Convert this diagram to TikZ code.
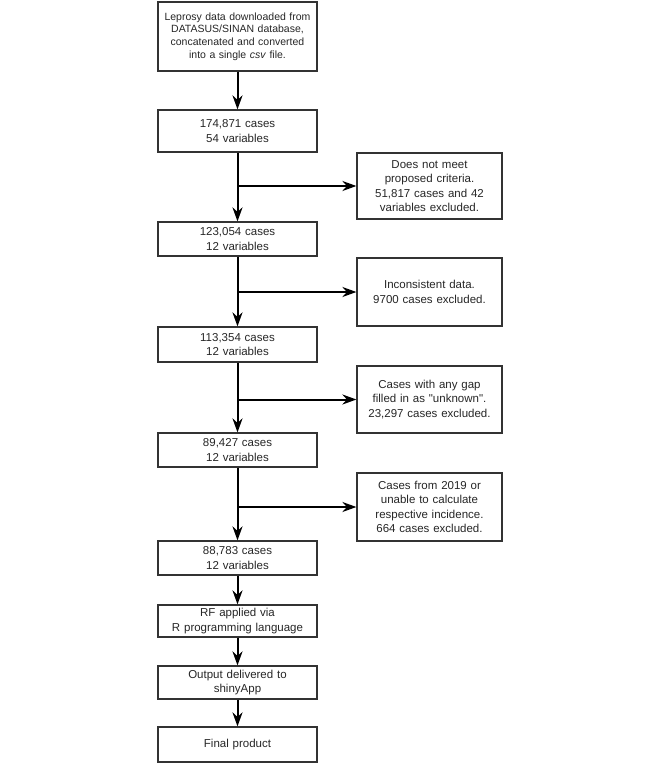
\documentclass[tikz,border=0pt]{standalone}
\usepackage{fontspec}
\setmainfont{Liberation Sans}
\usetikzlibrary{arrows.meta}
\definecolor{boxgray}{HTML}{333333}

\begin{document}
\begin{tikzpicture}[x=1pt, y=-1pt,
        stage/.style={draw=boxgray, line width=1.2pt, align=center, text width=152pt, minimum width=159pt, minimum height=34pt, inner sep=0pt, text=black!85, font=\fontsize{11.5}{14.5}\selectfont},
        drop/.style={stage, text width=140pt, minimum width=145pt, minimum height=67pt},
        flow/.style={-{Stealth[length=14pt, width=10pt, inset=4.5pt]}, line width=2pt}]
        \useasboundingbox (0,0) rectangle (666,763);

        \node[stage, minimum height=69pt, font=\fontsize{10.5}{12.6}\selectfont] (raw) at (237.5,36.5) {Leprosy data downloaded from\\DATASUS/SINAN database,\\concatenated and converted\\into a single \textit{csv} file.};
        \node[stage, minimum height=42pt] (all) at (237.5,131) {174,871 cases\\54 variables};
        \node[stage] (crit) at (237.5,239) {123,054 cases\\12 variables};
        \node[stage, minimum height=35pt] (clean) at (237.5,344.5) {113,354 cases\\12 variables};
        \node[stage] (known) at (237.5,450) {89,427 cases\\12 variables};
        \node[stage] (final) at (237.5,558) {88,783 cases\\12 variables};
        \node[stage, minimum height=32pt] (rf) at (237.5,621) {RF applied via\\R programming language};
        \node[stage, minimum height=33pt] (shiny) at (237.5,682.5) {Output delivered to\\shinyApp};
        \node[stage, minimum height=35pt] (product) at (237.5,744.5) {Final product};

        \node[drop, minimum height=66pt] (critout) at (429.5,186) {Does not meet\\proposed criteria.\\51,817 cases and 42\\variables excluded.};
        \node[drop, minimum height=68pt] (inconsout) at (429.5,292) {Inconsistent data.\\9700 cases excluded.};
        \node[drop] (gapout) at (429.5,399.5) {Cases with any gap\\filled in as \textquotedbl unknown\textquotedbl.\\23,297 cases excluded.};
        \node[drop, minimum height=68pt] (yearout) at (429.5,507) {Cases from 2019 or\\unable to calculate\\respective incidence.\\664 cases excluded.};

        \draw[flow] (raw) -- (all);
        \draw[flow] (all) -- (crit);
        \draw[flow] (crit) -- (clean);
        \draw[flow] (clean) -- (known);
        \draw[flow] (known) -- (final);
        \draw[flow] (final) -- (rf);
        \draw[flow] (rf) -- (shiny);
        \draw[flow] (shiny) -- (product);

        \draw[flow] (all |- critout) -- (critout);
        \draw[flow] (crit |- inconsout) -- (inconsout);
        \draw[flow] (clean |- gapout) -- (gapout);
        \draw[flow] (known |- yearout) -- (yearout);
    \end{tikzpicture}
\end{document}
